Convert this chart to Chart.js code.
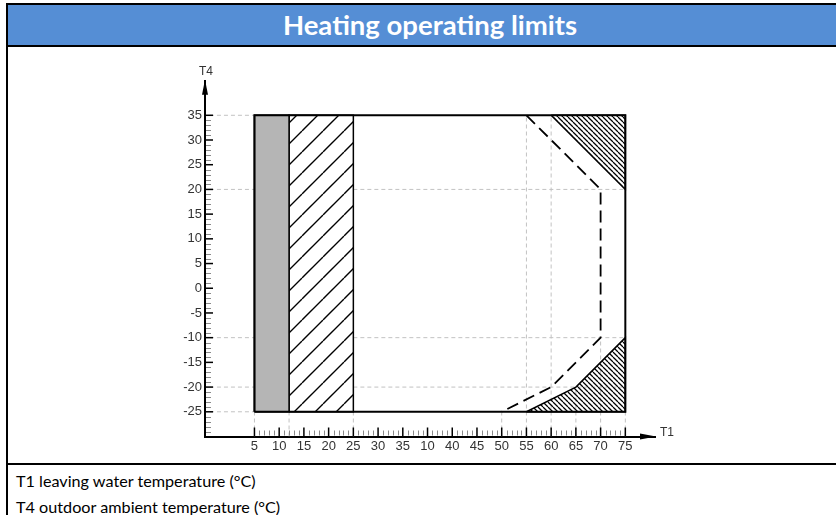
<!DOCTYPE html>
<html>
<head>
<meta charset="utf-8">
<script src="https://cdn.jsdelivr.net/npm/chart.js@4.4.1/dist/chart.umd.min.js"></script>
<style>
  body { margin: 0; width: 836px; height: 515px; overflow: hidden; position: relative; background: #fff; font-family: Lato, "Open Sans", sans-serif; }
  .bar { position: absolute; background: #000; }
  .title { position: absolute; left: 8px; top: 5px; width: 844px; height: 40px; background: #558ed5; color: #fff; font-weight: bold; font-size: 27.5px; line-height: 40px; text-align: center; }
  #chartBox { position: absolute; left: 8px; top: 47px; width: 828px; height: 416px; }
  .note { position: absolute; left: 16px; font-size: 16.2px; line-height: 20px; color: #000; }
</style>
</head>
<body>
<div class="bar" style="left:6px;top:3px;right:0;height:2px"></div>
<div class="bar" style="left:6px;top:3px;width:2px;bottom:0"></div>
<div class="title">Heating operating limits</div>
<div class="bar" style="left:8px;top:45px;right:0;height:2px"></div>
<div id="chartBox"><canvas id="chart" width="828" height="416"></canvas></div>
<div class="bar" style="left:8px;top:463px;right:0;height:2px"></div>
<div class="note" style="top:471px">T1 leaving water temperature (°C)</div>
<div class="note" style="top:497px">T4 outdoor ambient temperature (°C)</div>

<script>
// tick labels as printed (the axis has a stray "10" between 35 and 40)
const xTickLabels = ['5', '10', '15', '20', '25', '30', '35', '10', '40', '45', '50', '55', '60', '65', '70', '75'];
const yTickValues = [-25, -20, -15, -10, -5, 0, 5, 10, 15, 20, 25, 30, 35];

// regions, [T1, T4] pairs
const grayBand = [[5, -25], [12, -25], [12, 35], [5, 35]];
const hatchBand = [[12, -25], [25, -25], [25, 35], [12, 35]];
const envelope = [[5, -25], [75, -25], [75, 35], [5, 35]];
const topCorner = [[60, 35], [75, 35], [75, 20]];
const bottomCorner = [[55, -25], [65, -20], [75, -10], [75, -25]];
const dashedLimit = [[55, 35], [70, 20], [70, -10], [60, -20], [50, -25]];

// light dashed guide lines: [T4, fromT1, toT1] and [T1, fromT4, toT4]
const guideRows = [[35, -4, 5], [20, -4, 5], [20, 25, 75], [-10, -4, 5], [-10, 25, 75],
                   [-20, -4, 5], [-20, 25, 75], [-25, -4, 5]];
const guideCols = [[5, -30, -25], [12, -30, -25], [25, -30, -25], [50, -30, -25], [55, -30, 35],
                   [60, -30, 35], [65, -30, -20], [70, -30, -10], [75, -30, -25]];

// T1 values from 40 up sit one step further right on the printed axis
const toAxis = t => (t >= 40 ? t + 5 : t);
const pts = list => list.map(([t1, t4]) => ({ x: toAxis(t1), y: t4 }));
const closed = list => pts(list.concat([list[0]]));

function hatch(size, dir, width) {
  const c = document.createElement('canvas');
  c.width = c.height = size;
  const g = c.getContext('2d');
  g.strokeStyle = '#000';
  g.lineWidth = width;
  g.beginPath();
  for (let k = -1; k <= 1; k++) {
    if (dir === '/') { g.moveTo(k * size, size); g.lineTo(k * size + size, 0); }
    else { g.moveTo(k * size, 0); g.lineTo(k * size + size, size); }
  }
  g.stroke();
  return g.createPattern(c, 'repeat');
}

const datasets = [];
guideRows.forEach(([t4, a, b]) => datasets.push({
  data: [{ x: toAxis(a), y: t4 }, { x: toAxis(b), y: t4 }],
  borderColor: '#c2c2c2', borderWidth: 1, borderDash: [4, 3], order: 10
}));
guideCols.forEach(([t1, a, b]) => datasets.push({
  data: [{ x: toAxis(t1), y: a }, { x: toAxis(t1), y: b }],
  borderColor: '#c2c2c2', borderWidth: 1, borderDash: [4, 3], order: 10
}));
datasets.push(
  { data: closed(grayBand), fill: 'shape', backgroundColor: '#b5b5b5', borderColor: '#000', borderWidth: 1.5, order: 5 },
  { data: closed(hatchBand), fill: 'shape', backgroundColor: hatch(21, '/', 1.4), borderColor: '#000', borderWidth: 1.5, order: 5 },
  { data: closed(topCorner), fill: 'shape', backgroundColor: hatch(5, '\\', 1.25), borderColor: '#000', borderWidth: 1.5, order: 4 },
  { data: closed(bottomCorner), fill: 'shape', backgroundColor: hatch(5, '\\', 1.25), borderColor: '#000', borderWidth: 1.5, order: 4 },
  { data: closed(envelope), borderColor: '#000', borderWidth: 2, order: 2 },
  { data: pts(dashedLimit), borderColor: '#000', borderWidth: 1.8, borderDash: [12, 6], order: 1 }
);

// inward ruler ticks, arrow heads and axis names
const axisDecor = {
  id: 'axisDecor',
  afterDraw(chart) {
    const { ctx, chartArea: a, scales: { x, y } } = chart;
    const seg = (x1, y1, x2, y2) => { ctx.beginPath(); ctx.moveTo(x1, y1); ctx.lineTo(x2, y2); ctx.stroke(); };
    ctx.save();
    ctx.strokeStyle = '#8a8a8a';
    ctx.lineWidth = 1;
    for (let v = 5; v <= 80; v++) {
      if (v % 5 === 0) continue;
      const px = Math.round(x.getPixelForValue(v)) + 0.5;
      seg(px, a.bottom - 1, px, a.bottom - 6);
    }
    for (let v = -30; v <= 35; v++) {
      if (v % 5 === 0) continue;
      const py = Math.round(y.getPixelForValue(v)) + 0.5;
      seg(a.left + 1, py, a.left + 6, py);
    }
    ctx.strokeStyle = '#000';
    ctx.lineWidth = 1.5;
    for (let v = 5; v <= 80; v += 5) {
      const px = x.getPixelForValue(v);
      seg(px, a.bottom, px, a.bottom - 9);
    }
    yTickValues.forEach(v => {
      const py = y.getPixelForValue(v);
      seg(a.left, py, a.left + 8, py);
    });
    ctx.fillStyle = '#000';
    ctx.beginPath();
    ctx.moveTo(a.left, a.top - 1); ctx.lineTo(a.left - 3, a.top + 14); ctx.lineTo(a.left + 3, a.top + 14);
    ctx.fill();
    ctx.beginPath();
    ctx.moveTo(a.right + 1, a.bottom); ctx.lineTo(a.right - 15, a.bottom - 3); ctx.lineTo(a.right - 15, a.bottom + 3);
    ctx.fill();
    ctx.fillStyle = '#333';
    ctx.font = '12px "Liberation Sans", Arial, sans-serif';
    ctx.textAlign = 'center';
    ctx.textBaseline = 'middle';
    ctx.fillText('T4', a.left + 1, a.top - 9);
    ctx.textAlign = 'left';
    ctx.fillText('T1', a.right + 5, a.bottom - 4);
    ctx.restore();
  }
};

Chart.defaults.font.family = '"Liberation Sans", Arial, sans-serif';
Chart.defaults.font.size = 13;
Chart.defaults.color = '#333';

new Chart(document.getElementById('chart'), {
  type: 'scatter',
  data: { datasets },
  options: {
    responsive: false,
    animation: false,
    showLine: true,
    elements: { point: { radius: 0 }, line: { tension: 0 } },
    layout: { padding: { top: 33.7, right: 181, bottom: 0, left: 0 } },
    plugins: { legend: { display: false }, tooltip: { enabled: false } },
    scales: {
      x: {
        type: 'linear', min: -5, max: 86,
        afterFit: s => { s.height = 26.5; },
        grid: { display: false, drawTicks: false },
        border: { display: true, color: '#000', width: 2 },
        ticks: {
          stepSize: 5, autoSkip: false, maxRotation: 0, padding: 2,
          callback: v => {
            const i = (v - 5) / 5;
            return Number.isInteger(i) && i >= 0 && i < xTickLabels.length ? xTickLabels[i] : '';
          }
        }
      },
      y: {
        type: 'linear', min: -30, max: 42,
        afterFit: s => { s.width = 197; },
        grid: { display: false, drawTicks: false },
        border: { display: true, color: '#000', width: 2 },
        ticks: {
          stepSize: 5, autoSkip: false, padding: 3,
          callback: v => (yTickValues.includes(v) ? String(v) : '')
        }
      }
    }
  },
  plugins: [axisDecor]
});
</script>
</body>
</html>
